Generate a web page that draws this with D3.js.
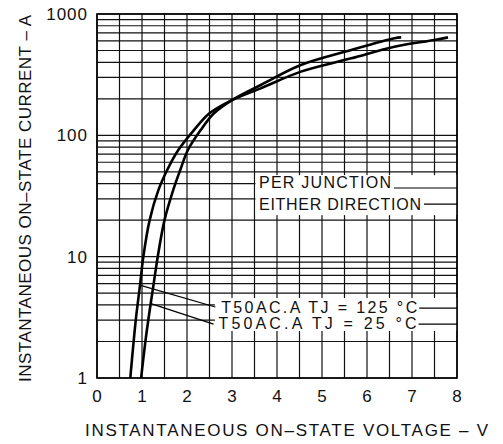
<!DOCTYPE html>
<html>
<head>
<meta charset="utf-8">
<script src="https://cdn.jsdelivr.net/npm/d3@7"></script>
<style>
  body { margin: 0; background: #fff; }
  text { font-family: "Liberation Sans", Arial, sans-serif; fill: #111; }
</style>
</head>
<body>
<div id="chart"></div>
<script>

// Axis ticks
var voltTicks = [0, 1, 2, 3, 4, 5, 6, 7, 8];
var currentTicks = [1, 10, 100, 1000];

// TJ = 125 C curve (volts, amps)
var volts125 = [0.74, 0.81, 0.87, 0.96, 1.03, 1.17, 1.36, 1.56, 1.80, 2.15, 2.50, 3.00, 3.64, 4.53, 5.65, 6.61, 7.50, 7.80];
var amps125  = [1, 1.93, 3.2, 6, 10, 20, 35, 51.8, 75, 110, 152, 195, 244, 335, 431, 538, 611, 642];

// TJ = 25 C curve
var volts25 = [0.98, 1.07, 1.15, 1.26, 1.35, 1.50, 1.70, 1.85, 2.02, 2.30, 2.60, 3.00, 3.64, 4.53, 5.65, 6.61, 6.76];
var amps25  = [1, 1.93, 3.2, 6, 10, 20, 36, 51.8, 75.7, 110, 152, 195, 260, 380, 505, 631, 642];

// Labels
var curveLabels = ["T50AC.A TJ = 125 \u00B0C", "T50AC.A TJ = 25 \u00B0C"];
var noteLines = ["PER JUNCTION", "EITHER DIRECTION"];
var xTitle = "INSTANTANEOUS ON\u2013STATE VOLTAGE \u2013 V";
var yTitle = "INSTANTANEOUS ON\u2013STATE CURRENT \u2013 A";


var width = 503, height = 444;
var margin = {top: 14, right: 46, bottom: 66, left: 97};

var svg = d3.select("#chart").append("svg")
    .attr("width", width)
    .attr("height", height);

svg.append("rect").attr("width", width).attr("height", height).attr("fill", "#fff");

var x = d3.scaleLinear().domain([0, 8]).range([margin.left, width - margin.right]);
var y = d3.scaleLog().domain([1, 1000]).range([height - margin.bottom, margin.top]);

// grid
var grid = svg.append("g").attr("stroke", "#111").attr("stroke-width", 1.2);

grid.selectAll(".vg")
    .data(d3.range(0, 8.01, 0.5))
  .enter().append("line")
    .attr("x1", function(d) { return x(d); })
    .attr("x2", function(d) { return x(d); })
    .attr("y1", y(1))
    .attr("y2", y(1000));

grid.selectAll(".hg")
    .data(y.ticks())
  .enter().append("line")
    .attr("x1", x(0))
    .attr("x2", x(8))
    .attr("y1", function(d) { return y(d); })
    .attr("y2", function(d) { return y(d); });

// white boxes behind the notes
svg.append("rect")
    .attr("x", x(3.5) + 1).attr("y", y(47))
    .attr("width", x(8) - x(3.5) - 1).attr("height", y(22) - y(47))
    .attr("fill", "#fff");

svg.append("rect")
    .attr("x", x(2.62)).attr("y", y(4.56))
    .attr("width", x(8) - x(2.62)).attr("height", y(2.44) - y(4.56))
    .attr("fill", "#fff");

svg.append("rect")
    .attr("x", x(0)).attr("y", y(1000))
    .attr("width", x(8) - x(0)).attr("height", y(1) - y(1000))
    .attr("fill", "none").attr("stroke", "#000").attr("stroke-width", 1.6);

// curves
var line = d3.line()
    .x(function(d) { return x(d[0]); })
    .y(function(d) { return y(d[1]); })
    .curve(d3.curveCatmullRom.alpha(0.5));

[[volts125, amps125], [volts25, amps25]].forEach(function(s) {
    svg.append("path")
        .datum(d3.zip(s[0], s[1]))
        .attr("d", line)
        .attr("fill", "none")
        .attr("stroke", "#000")
        .attr("stroke-width", 2.6);
});

// curve labels with leaders
var labelAnchors = [{from: [0.97, 5.8], to: [2.63, 3.85], at: [2.76, 3.43], len: 196},
                    {from: [1.2, 4.1], to: [2.59, 2.78], at: [2.70, 2.53], len: 198}];

labelAnchors.forEach(function(a, i) {
    svg.append("line")
        .attr("x1", x(a.from[0])).attr("y1", y(a.from[1]))
        .attr("x2", x(a.to[0])).attr("y2", y(a.to[1]))
        .attr("stroke", "#000").attr("stroke-width", 1.2);
    svg.append("text")
        .attr("x", x(a.at[0])).attr("y", y(a.at[1]))
        .attr("font-size", 16)
        .attr("textLength", a.len).attr("lengthAdjust", "spacing")
        .text(curveLabels[i]);
    svg.append("line")
        .attr("x1", x(a.at[0]) + a.len + 2).attr("x2", x(8))
        .attr("y1", y(a.at[1]) - 5).attr("y2", y(a.at[1]) - 5)
        .attr("stroke", "#000").attr("stroke-width", 1.2);
});

var noteAnchors = [{at: [3.6, 36.8], len: 132}, {at: [3.6, 24.2], len: 162}];

noteAnchors.forEach(function(a, i) {
    svg.append("text")
        .attr("x", x(a.at[0])).attr("y", y(a.at[1]))
        .attr("font-size", 16)
        .attr("textLength", a.len).attr("lengthAdjust", "spacing")
        .text(noteLines[i]);
    svg.append("line")
        .attr("x1", x(a.at[0]) + a.len + 3).attr("x2", x(8))
        .attr("y1", y(a.at[1]) - (i ? 6 : 0)).attr("y2", y(a.at[1]) - (i ? 6 : 0))
        .attr("stroke", "#000").attr("stroke-width", 1.2);
});

// axes (labels only)
var xAxis = svg.append("g")
    .attr("transform", "translate(0," + y(1) + ")")
    .call(d3.axisBottom(x).tickValues(voltTicks).tickSize(0).tickPadding(12));

var yAxis = svg.append("g")
    .attr("transform", "translate(" + x(0) + ",0)")
    .call(d3.axisLeft(y).tickValues(currentTicks).tickFormat(d3.format("d")).tickSize(0).tickPadding(9));

[xAxis, yAxis].forEach(function(g) {
    g.select(".domain").remove();
    g.selectAll("text")
        .attr("font-family", "\"Liberation Sans\", Arial, sans-serif")
        .attr("font-size", 17)
        .attr("letter-spacing", 1)
        .attr("fill", "#111");
});

// axis titles
svg.append("text")
    .attr("x", 85).attr("y", 436)
    .attr("font-size", 17)
    .attr("textLength", 403).attr("lengthAdjust", "spacing")
    .text(xTitle);

svg.append("text")
    .attr("transform", "translate(31,382) rotate(-90)")
    .attr("font-size", 17)
    .attr("textLength", 367).attr("lengthAdjust", "spacing")
    .text(yTitle);

</script>
</body>
</html>
